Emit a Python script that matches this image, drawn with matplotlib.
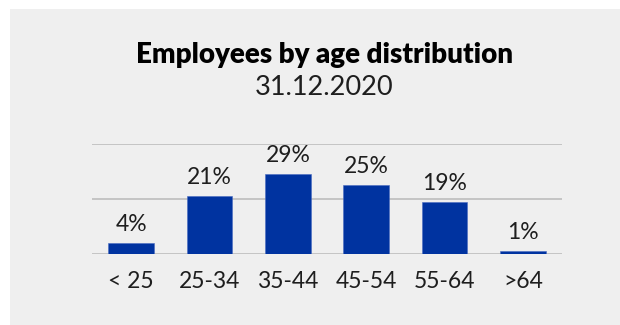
import matplotlib
matplotlib.use('Agg')
import matplotlib.pyplot as plt
from matplotlib.patches import Rectangle

age_groups = ['< 25', '25-34', '35-44', '45-54', '55-64', '>64']
shares = [4, 21, 29, 25, 19, 1]
share_labels = ['4%', '21%', '29%', '25%', '19%', '1%']

title = 'Employees by age distribution'
subtitle = '31.12.2020'

plt.rcParams['font.family'] = ['Lato', 'DejaVu Sans']
text_color = '#1e1e1e'
bar_color = '#0033a0'
panel_color = '#efefef'
grid_color = '#b9b9b9'

fig = plt.figure(figsize=(6.2, 3.25), dpi=100)
fig.patch.set_facecolor('white')
fig.patches.append(Rectangle((10 / 620, 0), 1 - 10 / 620, 1 - 9 / 325,
                             transform=fig.transFigure, facecolor=panel_color,
                             edgecolor='none', zorder=-5))

ax = fig.add_axes([92 / 620, 1 - 254 / 325, 470 / 620, 110 / 325])
ax.set_facecolor('none')
ax.set_zorder(2)

x = range(len(age_groups))
bars = ax.bar(x, shares, width=0.58, color=bar_color, edgecolor='#4a6cc0',
              linewidth=0.4, zorder=3)

for b, lab in zip(bars, share_labels):
    ax.annotate(lab, (b.get_x() + b.get_width() / 2, b.get_height()),
                xytext=(0, 8.5), textcoords='offset points',
                ha='center', va='baseline', fontsize=16.5, color=text_color)

ax.set_xlim(-0.5, len(age_groups) - 0.5)
ax.set_ylim(0, 40)
ax.set_yticks([0, 20, 40])
ax.yaxis.grid(True, color=grid_color, linewidth=1.1, zorder=1)
ax.tick_params(axis='y', left=False, labelleft=False)
ax.set_xticks(list(x))
ax.set_xticklabels(age_groups, fontsize=16.5, color=text_color)
ax.tick_params(axis='x', bottom=False, pad=9)
for s in ax.spines.values():
    s.set_visible(False)

fig.text(0.523, 1 - 63.3 / 325, title, ha='center', va='baseline',
         fontsize=20, fontweight='heavy', color='black')
fig.text(0.523, 1 - 95 / 325, subtitle, ha='center', va='baseline',
         fontsize=19.5, color=text_color)

fig.savefig('out.png', dpi=100, facecolor=fig.get_facecolor())
